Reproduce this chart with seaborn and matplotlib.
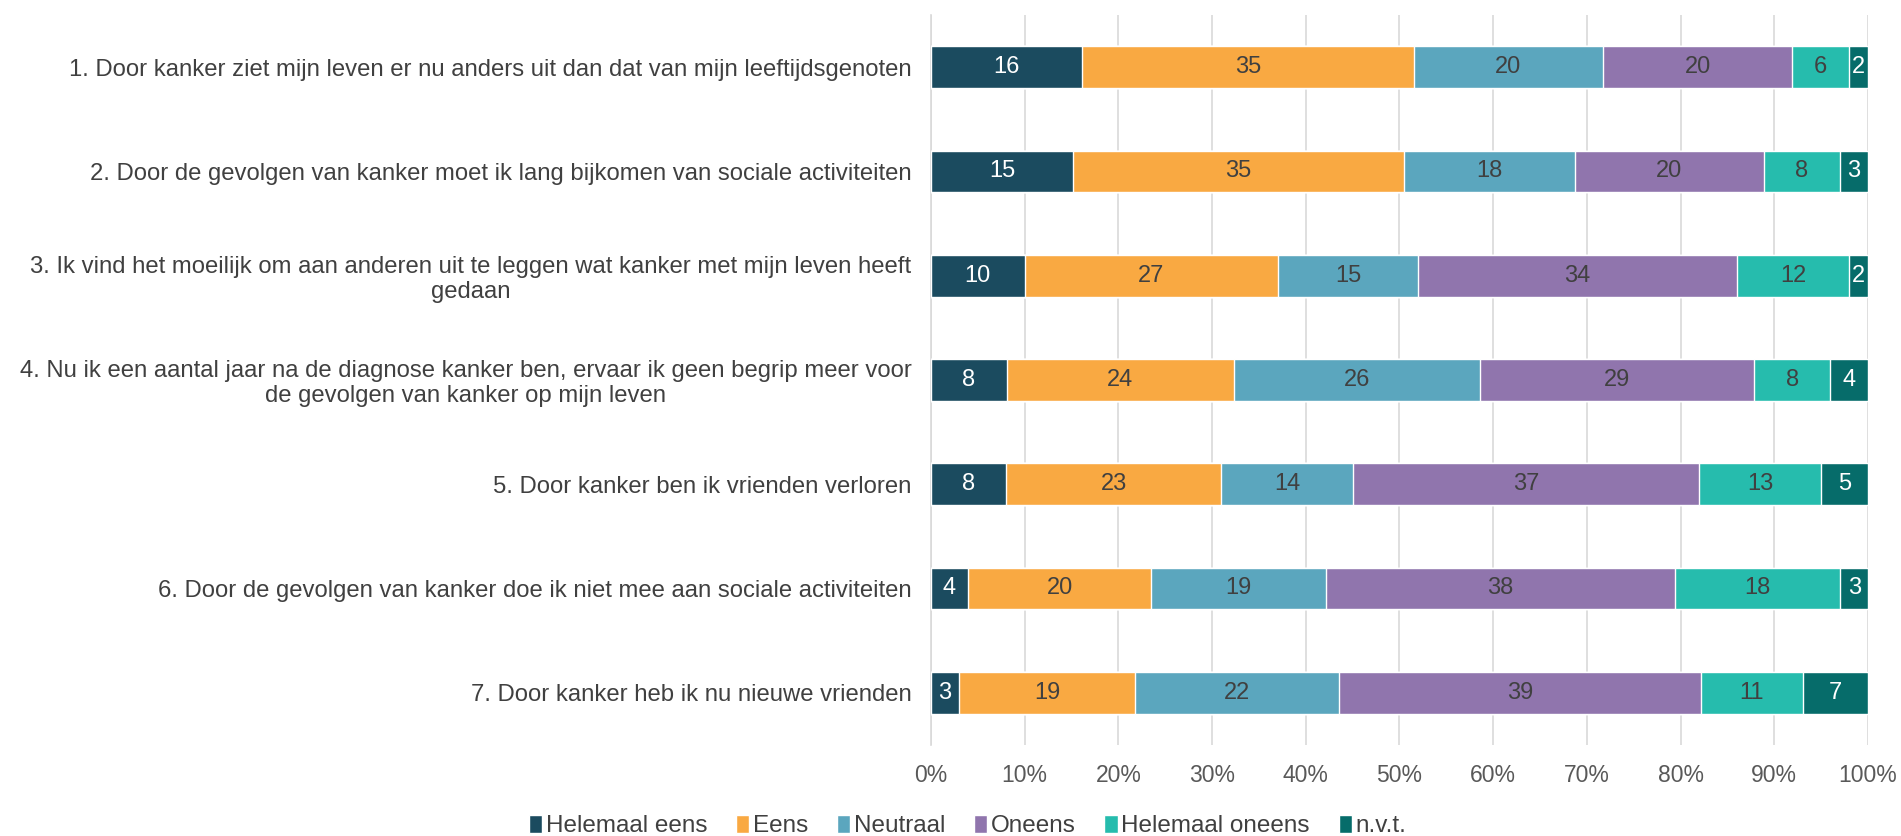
import numpy as np
import pandas as pd
import seaborn as sns
import matplotlib.pyplot as plt
from matplotlib.patches import Patch

statements = [
    "1. Door kanker ziet mijn leven er nu anders uit dan dat van mijn leeftijdsgenoten",
    "2. Door de gevolgen van kanker moet ik lang bijkomen van sociale activiteiten",
    "3. Ik vind het moeilijk om aan anderen uit te leggen wat kanker met mijn leven heeft\ngedaan",
    "4. Nu ik een aantal jaar na de diagnose kanker ben, ervaar ik geen begrip meer voor\nde gevolgen van kanker op mijn leven",
    "5. Door kanker ben ik vrienden verloren",
    "6. Door de gevolgen van kanker doe ik niet mee aan sociale activiteiten",
    "7. Door kanker heb ik nu nieuwe vrienden",
]
answers = ["Helemaal eens", "Eens", "Neutraal", "Oneens", "Helemaal oneens", "n.v.t."]

helemaal_eens = [16, 15, 10, 8, 8, 4, 3]
eens = [35, 35, 27, 24, 23, 20, 19]
neutraal = [20, 18, 15, 26, 14, 19, 22]
oneens = [20, 20, 34, 29, 37, 38, 39]
helemaal_oneens = [6, 8, 12, 8, 13, 18, 11]
nvt = [2, 3, 2, 4, 5, 3, 7]

colors = ["#1b4b5f", "#f9a942", "#5ba6be", "#9075ad", "#26bcad", "#066c6a"]
text_colors = ["white", "#404040", "#404040", "#404040", "#404040", "white"]

vals = np.array([helemaal_eens, eens, neutraal, oneens, helemaal_oneens, nvt], dtype=float)
shares = vals / vals.sum(axis=0)
cum = np.cumsum(shares, axis=0)

sns.set_style("white")
plt.rcParams['font.family'] = ['Liberation Sans', 'DejaVu Sans']

fig = plt.figure(figsize=(19.01, 8.36), dpi=100)
ax = fig.add_axes([0.4897, 0.109, 0.4929, 0.873])

# draw cumulative layers from back to front so they stack
for i in range(len(answers) - 1, -1, -1):
    df = pd.DataFrame({"statement": statements, "x": cum[i]})
    sns.barplot(data=df, y="statement", x="x", orient="h", color=colors[i],
                width=0.4, saturation=1, ax=ax, zorder=3)

for i in range(len(answers)):
    for j in range(len(statements)):
        left = cum[i, j] - shares[i, j]
        ax.text(left + shares[i, j] / 2, j, str(int(vals[i, j])), ha="center", va="center",
                color=text_colors[i], fontsize=17, zorder=5)

ax.set_xlim(0, 1)
ax.set_ylim(6.5, -0.5)
ax.set_xticks(np.arange(0, 1.01, 0.1))
ax.set_xticklabels([f"{int(round(t * 100))}%" for t in np.arange(0, 1.01, 0.1)])
ax.grid(axis="x", color="#d9d9d9", linewidth=1.2, zorder=0)
ax.set_axisbelow(True)
ax.set_xlabel("")
ax.set_ylabel("")
for s in ["top", "right", "bottom"]:
    ax.spines[s].set_visible(False)
ax.spines["left"].set_color("#d9d9d9")
ax.spines["left"].set_linewidth(1.2)
ax.tick_params(axis="x", length=0, labelsize=16.5, labelcolor="#595959", pad=14)
ax.tick_params(axis="y", which="major", length=0, labelsize=17.2, labelcolor="#404040", pad=14)
ax.set_yticks(np.arange(-0.5, 7, 1), minor=True)
ax.tick_params(axis="y", which="minor", length=6, color="#d9d9d9", width=1.2)
for lab in ax.get_yticklabels():
    lab.set_multialignment("center")
    lab.set_linespacing(1.15)

handles = [Patch(facecolor=c, label=a) for c, a in zip(colors, answers)]
fig.legend(handles=handles, loc="center", bbox_to_anchor=(0.509, 0.012), ncol=6, frameon=False,
           fontsize=17.5, handlelength=0.55, handleheight=0.75, handletextpad=0.15, columnspacing=1.18,
           labelcolor="#404040")

fig.savefig("out.png", dpi=100)
